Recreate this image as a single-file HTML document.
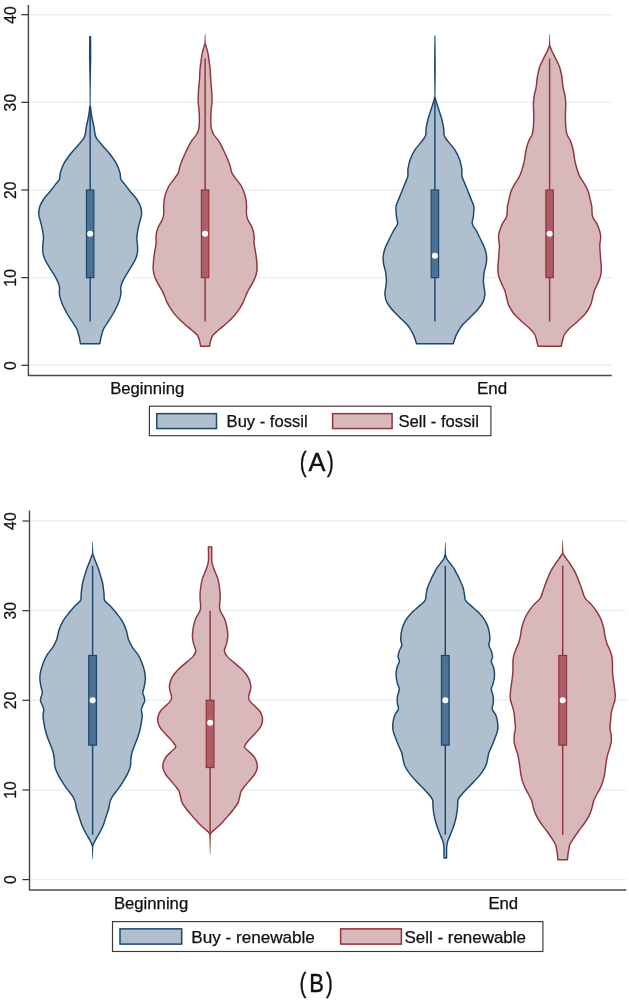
<!DOCTYPE html>
<html><head><meta charset="utf-8"><title>Violin plots</title>
<style>html,body{margin:0;padding:0;background:#fff}body{width:629px;height:1003px;overflow:hidden;font-family:"Liberation Sans",sans-serif}</style>
</head><body>
<svg width="629" height="1003" viewBox="0 0 629 1003" style="display:block;font-family:'Liberation Sans',sans-serif">
<rect width="629" height="1003" fill="#fff"/>
<line x1="29.0" y1="365.30" x2="612.2" y2="365.30" stroke="#e8f0f2" stroke-width="1.4"/>
<line x1="29.0" y1="277.65" x2="612.2" y2="277.65" stroke="#e8f0f2" stroke-width="1.4"/>
<line x1="29.0" y1="190.00" x2="612.2" y2="190.00" stroke="#e8f0f2" stroke-width="1.4"/>
<line x1="29.0" y1="102.35" x2="612.2" y2="102.35" stroke="#e8f0f2" stroke-width="1.4"/>
<line x1="29.0" y1="14.70" x2="612.2" y2="14.70" stroke="#e8f0f2" stroke-width="1.4"/>
<line x1="30.1" y1="879.60" x2="626.2" y2="879.60" stroke="#e8f0f2" stroke-width="1.4"/>
<line x1="30.1" y1="789.95" x2="626.2" y2="789.95" stroke="#e8f0f2" stroke-width="1.4"/>
<line x1="30.1" y1="700.30" x2="626.2" y2="700.30" stroke="#e8f0f2" stroke-width="1.4"/>
<line x1="30.1" y1="610.65" x2="626.2" y2="610.65" stroke="#e8f0f2" stroke-width="1.4"/>
<line x1="30.1" y1="521.00" x2="626.2" y2="521.00" stroke="#e8f0f2" stroke-width="1.4"/>
<polygon points="89.10,36.00 89.00,45.00 88.95,58.00 89.20,70.00 89.40,80.00 89.55,90.00 89.65,107.50 90.65,107.50 90.75,90.00 90.90,80.00 91.10,70.00 91.35,58.00 91.30,45.00 91.20,36.00" fill="#1a476f"/>
<path d="M89.80 106.50 C89.71 107.35 89.54 109.52 89.25 111.60 C88.96 113.68 88.53 116.47 88.05 119.00 C87.57 121.53 86.83 124.22 86.35 126.80 C85.87 129.38 85.67 132.43 85.15 134.50 C84.63 136.57 84.52 137.30 83.25 139.20 C81.98 141.10 79.62 143.52 77.55 145.90 C75.48 148.28 73.08 150.63 70.85 153.50 C68.62 156.37 65.90 159.92 64.15 163.10 C62.40 166.28 61.13 169.90 60.35 172.60 C59.57 175.30 60.23 177.38 59.45 179.30 C58.67 181.22 57.25 182.03 55.65 184.10 C54.05 186.17 51.83 189.22 49.85 191.70 C47.87 194.18 45.45 196.50 43.76 199.00 C42.07 201.50 40.55 204.15 39.71 206.70 C38.88 209.25 38.66 212.08 38.73 214.30 C38.79 216.52 39.57 217.77 40.11 220.00 C40.65 222.23 41.43 224.83 41.98 227.70 C42.54 230.57 43.32 234.33 43.46 237.20 C43.61 240.07 42.97 242.35 42.87 244.90 C42.77 247.45 42.49 249.98 42.87 252.50 C43.25 255.02 43.82 257.13 45.15 260.00 C46.48 262.87 48.95 266.50 50.85 269.70 C52.75 272.90 55.12 276.35 56.55 279.20 C57.98 282.05 58.97 284.25 59.45 286.80 C59.93 289.35 58.98 291.63 59.45 294.50 C59.92 297.37 60.98 300.83 62.25 304.00 C63.52 307.17 65.45 310.63 67.05 313.50 C68.65 316.37 70.25 318.65 71.85 321.20 C73.45 323.75 75.45 326.27 76.65 328.80 C77.85 331.33 78.42 333.92 79.05 336.40 C79.68 338.88 80.22 342.48 80.45 343.70 L99.85 343.70 C100.08 342.48 100.62 338.88 101.25 336.40 C101.88 333.92 102.45 331.33 103.65 328.80 C104.85 326.27 106.85 323.75 108.45 321.20 C110.05 318.65 111.65 316.37 113.25 313.50 C114.85 310.63 116.78 307.17 118.05 304.00 C119.32 300.83 120.38 297.37 120.85 294.50 C121.32 291.63 120.37 289.35 120.85 286.80 C121.33 284.25 122.32 282.05 123.75 279.20 C125.18 276.35 127.55 272.90 129.45 269.70 C131.35 266.50 133.82 262.87 135.15 260.00 C136.48 257.13 137.05 255.02 137.43 252.50 C137.81 249.98 137.53 247.45 137.43 244.90 C137.33 242.35 136.69 240.07 136.84 237.20 C136.98 234.33 137.76 230.57 138.32 227.70 C138.87 224.83 139.65 222.23 140.19 220.00 C140.73 217.77 141.51 216.52 141.57 214.30 C141.64 212.08 141.42 209.25 140.59 206.70 C139.75 204.15 138.23 201.50 136.54 199.00 C134.85 196.50 132.43 194.18 130.45 191.70 C128.47 189.22 126.25 186.17 124.65 184.10 C123.05 182.03 121.63 181.22 120.85 179.30 C120.07 177.38 120.73 175.30 119.95 172.60 C119.17 169.90 117.90 166.28 116.15 163.10 C114.40 159.92 111.68 156.37 109.45 153.50 C107.22 150.63 104.82 148.28 102.75 145.90 C100.68 143.52 98.32 141.10 97.05 139.20 C95.78 137.30 95.67 136.57 95.15 134.50 C94.63 132.43 94.43 129.38 93.95 126.80 C93.47 124.22 92.73 121.53 92.25 119.00 C91.77 116.47 91.34 113.68 91.05 111.60 C90.76 109.52 90.59 107.35 90.50 106.50 Z" fill="#afbfcd" stroke="#1a476f" stroke-width="1.45" stroke-linejoin="round"/>
<line x1="90.15" y1="107.00" x2="90.15" y2="321.48" stroke="#1a476f" stroke-width="1.45"/><rect x="86.45" y="190.00" width="7.40" height="87.65" fill="#4d7095" stroke="#1a476f" stroke-width="1.2"/><circle cx="90.15" cy="233.82" r="3.0" fill="#fff"/>
<polygon points="204.30,45.20 204.88,33.60 205.32,33.60 205.90,45.20" fill="#90353b"/>
<path d="M204.60 44.80 C204.40 45.47 203.80 47.33 203.40 48.80 C203.00 50.27 202.53 52.00 202.20 53.60 C201.87 55.20 201.63 56.82 201.40 58.40 C201.17 59.98 201.03 61.23 200.80 63.10 C200.57 64.97 200.23 66.62 200.00 69.60 C199.77 72.58 199.67 77.18 199.40 81.00 C199.13 84.82 198.60 89.00 198.40 92.50 C198.20 96.00 198.10 99.13 198.20 102.00 C198.30 104.87 198.80 106.83 199.00 109.70 C199.20 112.57 199.43 116.03 199.40 119.20 C199.37 122.37 199.28 126.15 198.80 128.70 C198.32 131.25 197.83 132.27 196.50 134.50 C195.17 136.73 192.70 138.93 190.80 142.10 C188.90 145.27 186.85 149.68 185.10 153.50 C183.35 157.32 181.42 161.82 180.30 165.00 C179.18 168.18 179.35 170.38 178.40 172.60 C177.45 174.82 176.18 176.07 174.60 178.30 C173.02 180.53 170.48 183.13 168.90 186.00 C167.32 188.87 165.97 192.37 165.10 195.50 C164.23 198.63 163.93 201.67 163.70 204.80 C163.47 207.93 163.95 211.77 163.70 214.30 C163.45 216.83 163.15 217.77 162.20 220.00 C161.25 222.23 159.02 225.15 158.00 227.70 C156.98 230.25 156.42 232.75 156.10 235.30 C155.78 237.85 156.30 240.45 156.10 243.00 C155.90 245.55 155.32 247.75 154.90 250.60 C154.48 253.45 153.88 256.92 153.60 260.10 C153.32 263.28 152.98 266.83 153.20 269.70 C153.42 272.57 153.98 274.77 154.90 277.30 C155.82 279.83 157.33 282.35 158.70 284.90 C160.07 287.45 161.73 289.73 163.10 292.60 C164.47 295.47 165.30 298.93 166.90 302.10 C168.50 305.27 170.63 308.73 172.70 311.60 C174.77 314.47 176.77 316.75 179.30 319.30 C181.83 321.85 185.35 324.68 187.90 326.90 C190.45 329.12 193.00 331.17 194.60 332.60 C196.20 334.03 196.70 334.23 197.50 335.50 C198.30 336.77 198.87 338.40 199.40 340.20 C199.93 342.00 200.48 345.28 200.70 346.30 L209.50 346.30 C209.72 345.28 210.27 342.00 210.80 340.20 C211.33 338.40 211.90 336.77 212.70 335.50 C213.50 334.23 214.00 334.03 215.60 332.60 C217.20 331.17 219.75 329.12 222.30 326.90 C224.85 324.68 228.37 321.85 230.90 319.30 C233.43 316.75 235.43 314.47 237.50 311.60 C239.57 308.73 241.70 305.27 243.30 302.10 C244.90 298.93 245.73 295.47 247.10 292.60 C248.47 289.73 250.13 287.45 251.50 284.90 C252.87 282.35 254.38 279.83 255.30 277.30 C256.22 274.77 256.78 272.57 257.00 269.70 C257.22 266.83 256.88 263.28 256.60 260.10 C256.32 256.92 255.72 253.45 255.30 250.60 C254.88 247.75 254.30 245.55 254.10 243.00 C253.90 240.45 254.42 237.85 254.10 235.30 C253.78 232.75 253.22 230.25 252.20 227.70 C251.18 225.15 248.95 222.23 248.00 220.00 C247.05 217.77 246.75 216.83 246.50 214.30 C246.25 211.77 246.73 207.93 246.50 204.80 C246.27 201.67 245.97 198.63 245.10 195.50 C244.23 192.37 242.88 188.87 241.30 186.00 C239.72 183.13 237.18 180.53 235.60 178.30 C234.02 176.07 232.75 174.82 231.80 172.60 C230.85 170.38 231.02 168.18 229.90 165.00 C228.78 161.82 226.85 157.32 225.10 153.50 C223.35 149.68 221.30 145.27 219.40 142.10 C217.50 138.93 215.03 136.73 213.70 134.50 C212.37 132.27 211.88 131.25 211.40 128.70 C210.92 126.15 210.83 122.37 210.80 119.20 C210.77 116.03 211.00 112.57 211.20 109.70 C211.40 106.83 211.90 104.87 212.00 102.00 C212.10 99.13 212.00 96.00 211.80 92.50 C211.60 89.00 211.07 84.82 210.80 81.00 C210.53 77.18 210.43 72.58 210.20 69.60 C209.97 66.62 209.63 64.97 209.40 63.10 C209.17 61.23 209.03 59.98 208.80 58.40 C208.57 56.82 208.33 55.20 208.00 53.60 C207.67 52.00 207.20 50.27 206.80 48.80 C206.40 47.33 205.80 45.47 205.60 44.80 Z" fill="#d8b8ba" stroke="#90353b" stroke-width="1.45" stroke-linejoin="round"/>
<line x1="205.10" y1="58.52" x2="205.10" y2="321.48" stroke="#90353b" stroke-width="1.45"/><rect x="201.40" y="190.00" width="7.40" height="87.65" fill="#ab5e65" stroke="#90353b" stroke-width="1.2"/><circle cx="205.10" cy="233.82" r="3.0" fill="#fff"/>
<polygon points="434.40,35.40 434.15,50.00 434.00,67.00 434.20,85.00 434.35,98.50 435.45,98.50 435.60,85.00 435.80,67.00 435.65,50.00 435.40,35.40" fill="#1a476f"/>
<path d="M434.55 97.50 C434.46 97.93 434.59 98.07 434.00 100.10 C433.41 102.13 432.00 106.52 431.00 109.70 C430.00 112.88 428.82 116.03 428.00 119.20 C427.18 122.37 426.50 126.00 426.10 128.70 C425.70 131.40 426.17 133.48 425.60 135.40 C425.03 137.32 424.45 137.82 422.70 140.20 C420.95 142.58 417.17 146.52 415.10 149.70 C413.03 152.88 411.48 156.12 410.30 159.30 C409.12 162.48 408.42 165.95 408.00 168.80 C407.58 171.65 408.22 174.17 407.80 176.40 C407.38 178.63 406.52 179.65 405.50 182.20 C404.48 184.75 402.97 188.53 401.70 191.70 C400.43 194.87 398.85 198.70 397.90 201.20 C396.95 203.70 396.25 204.20 396.00 206.70 C395.75 209.20 396.15 213.33 396.40 216.20 C396.65 219.07 398.05 221.35 397.50 223.90 C396.95 226.45 394.62 228.65 393.10 231.50 C391.58 234.35 389.77 238.13 388.40 241.00 C387.03 243.87 385.77 246.15 384.90 248.70 C384.03 251.25 383.42 253.77 383.20 256.30 C382.98 258.83 383.22 261.35 383.60 263.90 C383.98 266.45 385.03 268.73 385.50 271.60 C385.97 274.47 386.40 278.25 386.40 281.10 C386.40 283.95 385.75 286.47 385.50 288.70 C385.25 290.93 384.68 292.27 384.90 294.50 C385.12 296.73 385.58 299.57 386.80 302.10 C388.02 304.63 390.03 307.15 392.20 309.70 C394.37 312.25 397.27 314.85 399.80 317.40 C402.33 319.95 405.50 322.78 407.40 325.00 C409.30 327.22 410.08 328.80 411.20 330.70 C412.32 332.60 413.20 334.23 414.10 336.40 C415.00 338.57 416.18 342.48 416.60 343.70 L453.20 343.70 C453.62 342.48 454.80 338.57 455.70 336.40 C456.60 334.23 457.48 332.60 458.60 330.70 C459.72 328.80 460.50 327.22 462.40 325.00 C464.30 322.78 467.47 319.95 470.00 317.40 C472.53 314.85 475.43 312.25 477.60 309.70 C479.77 307.15 481.78 304.63 483.00 302.10 C484.22 299.57 484.68 296.73 484.90 294.50 C485.12 292.27 484.55 290.93 484.30 288.70 C484.05 286.47 483.40 283.95 483.40 281.10 C483.40 278.25 483.83 274.47 484.30 271.60 C484.77 268.73 485.82 266.45 486.20 263.90 C486.58 261.35 486.82 258.83 486.60 256.30 C486.38 253.77 485.77 251.25 484.90 248.70 C484.03 246.15 482.77 243.87 481.40 241.00 C480.03 238.13 478.22 234.35 476.70 231.50 C475.18 228.65 472.85 226.45 472.30 223.90 C471.75 221.35 473.15 219.07 473.40 216.20 C473.65 213.33 474.05 209.20 473.80 206.70 C473.55 204.20 472.85 203.70 471.90 201.20 C470.95 198.70 469.37 194.87 468.10 191.70 C466.83 188.53 465.32 184.75 464.30 182.20 C463.28 179.65 462.42 178.63 462.00 176.40 C461.58 174.17 462.22 171.65 461.80 168.80 C461.38 165.95 460.68 162.48 459.50 159.30 C458.32 156.12 456.77 152.88 454.70 149.70 C452.63 146.52 448.85 142.58 447.10 140.20 C445.35 137.82 444.77 137.32 444.20 135.40 C443.63 133.48 444.10 131.40 443.70 128.70 C443.30 126.00 442.62 122.37 441.80 119.20 C440.98 116.03 439.80 112.88 438.80 109.70 C437.80 106.52 436.39 102.13 435.80 100.10 C435.21 98.07 435.34 97.93 435.25 97.50 Z" fill="#afbfcd" stroke="#1a476f" stroke-width="1.45" stroke-linejoin="round"/>
<line x1="434.90" y1="98.00" x2="434.90" y2="321.48" stroke="#1a476f" stroke-width="1.45"/><rect x="431.20" y="190.00" width="7.40" height="87.65" fill="#4d7095" stroke="#1a476f" stroke-width="1.2"/><circle cx="434.90" cy="255.74" r="3.0" fill="#fff"/>
<polygon points="548.80,46.90 549.38,34.00 549.82,34.00 550.40,46.90" fill="#90353b"/>
<path d="M549.10 46.50 C548.88 47.08 548.32 48.82 547.80 50.00 C547.28 51.18 546.70 52.20 546.00 53.60 C545.30 55.00 544.38 56.82 543.60 58.40 C542.82 59.98 542.00 61.55 541.30 63.10 C540.60 64.65 540.07 65.35 539.40 67.70 C538.73 70.05 537.83 74.02 537.30 77.20 C536.77 80.38 536.73 83.62 536.20 86.80 C535.67 89.98 534.57 93.45 534.10 96.30 C533.63 99.15 533.45 100.72 533.40 103.90 C533.35 107.08 533.80 111.58 533.80 115.40 C533.80 119.22 533.67 123.62 533.40 126.80 C533.13 129.98 532.93 132.27 532.20 134.50 C531.47 136.73 530.02 137.67 529.00 140.20 C527.98 142.73 526.83 146.52 526.10 149.70 C525.37 152.88 525.23 156.12 524.60 159.30 C523.97 162.48 523.15 165.95 522.30 168.80 C521.45 171.65 520.77 173.85 519.50 176.40 C518.23 178.95 516.13 181.55 514.70 184.10 C513.27 186.65 511.92 188.85 510.90 191.70 C509.88 194.55 509.18 198.70 508.60 201.20 C508.02 203.70 507.72 204.20 507.40 206.70 C507.08 209.20 507.55 213.33 506.70 216.20 C505.85 219.07 503.52 221.35 502.30 223.90 C501.08 226.45 500.03 229.28 499.40 231.50 C498.77 233.72 498.50 234.97 498.50 237.20 C498.50 239.43 499.32 242.35 499.40 244.90 C499.48 247.45 499.15 249.97 499.00 252.50 C498.85 255.03 498.68 257.55 498.50 260.10 C498.32 262.65 497.90 265.25 497.90 267.80 C497.90 270.35 497.93 272.87 498.50 275.40 C499.07 277.93 500.25 280.47 501.30 283.00 C502.35 285.53 503.90 288.05 504.80 290.60 C505.70 293.15 506.00 295.75 506.70 298.30 C507.40 300.85 507.83 303.37 509.00 305.90 C510.17 308.43 511.63 310.95 513.70 313.50 C515.77 316.05 518.68 318.65 521.40 321.20 C524.12 323.75 527.78 326.58 530.00 328.80 C532.22 331.02 533.60 332.60 534.70 334.50 C535.80 336.40 536.05 338.23 536.60 340.20 C537.15 342.17 537.77 345.28 538.00 346.30 L561.20 346.30 C561.43 345.28 562.05 342.17 562.60 340.20 C563.15 338.23 563.40 336.40 564.50 334.50 C565.60 332.60 566.98 331.02 569.20 328.80 C571.42 326.58 575.08 323.75 577.80 321.20 C580.52 318.65 583.43 316.05 585.50 313.50 C587.57 310.95 589.03 308.43 590.20 305.90 C591.37 303.37 591.80 300.85 592.50 298.30 C593.20 295.75 593.50 293.15 594.40 290.60 C595.30 288.05 596.85 285.53 597.90 283.00 C598.95 280.47 600.13 277.93 600.70 275.40 C601.27 272.87 601.30 270.35 601.30 267.80 C601.30 265.25 600.88 262.65 600.70 260.10 C600.52 257.55 600.35 255.03 600.20 252.50 C600.05 249.97 599.72 247.45 599.80 244.90 C599.88 242.35 600.70 239.43 600.70 237.20 C600.70 234.97 600.43 233.72 599.80 231.50 C599.17 229.28 598.12 226.45 596.90 223.90 C595.68 221.35 593.35 219.07 592.50 216.20 C591.65 213.33 592.12 209.20 591.80 206.70 C591.48 204.20 591.18 203.70 590.60 201.20 C590.02 198.70 589.32 194.55 588.30 191.70 C587.28 188.85 585.93 186.65 584.50 184.10 C583.07 181.55 580.97 178.95 579.70 176.40 C578.43 173.85 577.75 171.65 576.90 168.80 C576.05 165.95 575.23 162.48 574.60 159.30 C573.97 156.12 573.83 152.88 573.10 149.70 C572.37 146.52 571.22 142.73 570.20 140.20 C569.18 137.67 567.73 136.73 567.00 134.50 C566.27 132.27 566.07 129.98 565.80 126.80 C565.53 123.62 565.40 119.22 565.40 115.40 C565.40 111.58 565.85 107.08 565.80 103.90 C565.75 100.72 565.57 99.15 565.10 96.30 C564.63 93.45 563.53 89.98 563.00 86.80 C562.47 83.62 562.43 80.38 561.90 77.20 C561.37 74.02 560.47 70.05 559.80 67.70 C559.13 65.35 558.60 64.65 557.90 63.10 C557.20 61.55 556.38 59.98 555.60 58.40 C554.82 56.82 553.90 55.00 553.20 53.60 C552.50 52.20 551.92 51.18 551.40 50.00 C550.88 48.82 550.32 47.08 550.10 46.50 Z" fill="#d8b8ba" stroke="#90353b" stroke-width="1.45" stroke-linejoin="round"/>
<line x1="549.60" y1="58.52" x2="549.60" y2="321.48" stroke="#90353b" stroke-width="1.45"/><rect x="545.90" y="190.00" width="7.40" height="87.65" fill="#ab5e65" stroke="#90353b" stroke-width="1.2"/><circle cx="549.60" cy="233.82" r="3.0" fill="#fff"/>
<polygon points="91.80,555.40 92.38,541.50 92.82,541.50 93.40,555.40" fill="#1a476f"/>
<polygon points="91.80,844.80 92.38,859.00 92.82,859.00 93.40,844.80" fill="#1a476f"/>
<path d="M92.10 555.00 C91.85 555.67 91.15 557.57 90.60 559.00 C90.05 560.43 89.42 562.03 88.80 563.60 C88.18 565.17 87.47 566.82 86.90 568.40 C86.33 569.98 85.88 571.50 85.40 573.10 C84.92 574.70 84.50 576.17 84.00 578.00 C83.50 579.83 82.87 581.48 82.40 584.10 C81.93 586.72 81.50 590.98 81.20 593.70 C80.90 596.42 81.50 598.50 80.60 600.40 C79.70 602.30 77.72 603.03 75.80 605.10 C73.88 607.17 71.17 610.25 69.10 612.80 C67.03 615.35 65.08 617.55 63.40 620.40 C61.72 623.25 60.12 626.72 59.00 629.90 C57.88 633.08 57.72 636.63 56.70 639.50 C55.68 642.37 54.48 644.57 52.90 647.10 C51.32 649.63 48.78 652.15 47.20 654.70 C45.62 657.25 44.52 659.53 43.40 662.40 C42.28 665.27 41.08 669.05 40.50 671.90 C39.92 674.75 39.80 676.95 39.90 679.50 C40.00 682.05 40.68 684.97 41.10 687.20 C41.52 689.43 42.40 691.32 42.40 692.90 C42.40 694.48 41.42 695.35 41.10 696.70 C40.78 698.05 40.28 699.57 40.50 701.00 C40.72 702.43 41.85 703.80 42.40 705.30 C42.95 706.80 43.70 708.42 43.80 710.00 C43.90 711.58 43.00 712.73 43.00 714.80 C43.00 716.87 43.42 719.87 43.80 722.40 C44.18 724.93 44.67 727.45 45.30 730.00 C45.93 732.55 46.72 735.15 47.60 737.70 C48.48 740.25 49.65 742.75 50.60 745.30 C51.55 747.85 52.67 750.62 53.30 753.00 C53.93 755.38 54.15 757.38 54.40 759.60 C54.65 761.82 54.25 763.92 54.80 766.30 C55.35 768.68 56.48 771.35 57.70 773.90 C58.92 776.45 60.52 779.05 62.10 781.60 C63.68 784.15 65.38 786.67 67.20 789.20 C69.02 791.73 71.63 794.57 73.00 796.80 C74.37 799.03 74.83 800.68 75.40 802.60 C75.97 804.52 75.82 806.08 76.40 808.30 C76.98 810.52 78.08 813.37 78.90 815.90 C79.72 818.43 80.45 821.18 81.30 823.50 C82.15 825.82 83.12 827.97 84.00 829.80 C84.88 831.63 85.70 832.92 86.60 834.50 C87.50 836.08 88.53 837.72 89.40 839.30 C90.27 840.88 91.33 843.02 91.80 844.00 C92.27 844.98 92.13 845.00 92.20 845.20 L93.00 845.20 C93.07 845.00 92.93 844.98 93.40 844.00 C93.87 843.02 94.93 840.88 95.80 839.30 C96.67 837.72 97.70 836.08 98.60 834.50 C99.50 832.92 100.32 831.63 101.20 829.80 C102.08 827.97 103.05 825.82 103.90 823.50 C104.75 821.18 105.48 818.43 106.30 815.90 C107.12 813.37 108.22 810.52 108.80 808.30 C109.38 806.08 109.23 804.52 109.80 802.60 C110.37 800.68 110.83 799.03 112.20 796.80 C113.57 794.57 116.18 791.73 118.00 789.20 C119.82 786.67 121.52 784.15 123.10 781.60 C124.68 779.05 126.28 776.45 127.50 773.90 C128.72 771.35 129.85 768.68 130.40 766.30 C130.95 763.92 130.55 761.82 130.80 759.60 C131.05 757.38 131.27 755.38 131.90 753.00 C132.53 750.62 133.65 747.85 134.60 745.30 C135.55 742.75 136.72 740.25 137.60 737.70 C138.48 735.15 139.27 732.55 139.90 730.00 C140.53 727.45 141.02 724.93 141.40 722.40 C141.78 719.87 142.20 716.87 142.20 714.80 C142.20 712.73 141.30 711.58 141.40 710.00 C141.50 708.42 142.25 706.80 142.80 705.30 C143.35 703.80 144.48 702.43 144.70 701.00 C144.92 699.57 144.42 698.05 144.10 696.70 C143.78 695.35 142.80 694.48 142.80 692.90 C142.80 691.32 143.68 689.43 144.10 687.20 C144.52 684.97 145.20 682.05 145.30 679.50 C145.40 676.95 145.28 674.75 144.70 671.90 C144.12 669.05 142.92 665.27 141.80 662.40 C140.68 659.53 139.58 657.25 138.00 654.70 C136.42 652.15 133.88 649.63 132.30 647.10 C130.72 644.57 129.52 642.37 128.50 639.50 C127.48 636.63 127.32 633.08 126.20 629.90 C125.08 626.72 123.48 623.25 121.80 620.40 C120.12 617.55 118.17 615.35 116.10 612.80 C114.03 610.25 111.32 607.17 109.40 605.10 C107.48 603.03 105.50 602.30 104.60 600.40 C103.70 598.50 104.30 596.42 104.00 593.70 C103.70 590.98 103.27 586.72 102.80 584.10 C102.33 581.48 101.70 579.83 101.20 578.00 C100.70 576.17 100.28 574.70 99.80 573.10 C99.32 571.50 98.87 569.98 98.30 568.40 C97.73 566.82 97.02 565.17 96.40 563.60 C95.78 562.03 95.15 560.43 94.60 559.00 C94.05 557.57 93.35 555.67 93.10 555.00 Z" fill="#afbfcd" stroke="#1a476f" stroke-width="1.45" stroke-linejoin="round"/>
<line x1="92.60" y1="565.83" x2="92.60" y2="834.77" stroke="#1a476f" stroke-width="1.45"/><rect x="88.75" y="655.48" width="7.70" height="89.65" fill="#4d7095" stroke="#1a476f" stroke-width="1.2"/><circle cx="92.60" cy="700.30" r="3.0" fill="#fff"/>
<polygon points="209.30,833.40 209.88,854.00 210.32,854.00 210.90,833.40" fill="#90353b"/>
<path d="M208.40 546.90 C208.40 549.28 208.75 557.53 208.40 561.20 C208.05 564.87 207.28 566.03 206.30 568.90 C205.32 571.77 203.45 575.22 202.50 578.40 C201.55 581.58 201.02 584.82 200.60 588.00 C200.18 591.18 200.00 594.65 200.00 597.50 C200.00 600.35 200.60 602.88 200.60 605.10 C200.60 607.32 200.80 608.57 200.00 610.80 C199.20 613.03 196.88 615.95 195.80 618.50 C194.72 621.05 194.07 623.25 193.50 626.10 C192.93 628.95 192.40 632.73 192.40 635.60 C192.40 638.47 192.93 640.75 193.50 643.30 C194.07 645.85 195.90 648.68 195.80 650.90 C195.70 653.12 194.48 654.68 192.90 656.60 C191.32 658.52 188.83 660.17 186.30 662.40 C183.77 664.63 180.10 667.47 177.70 670.00 C175.30 672.53 173.27 675.07 171.90 677.60 C170.53 680.13 169.82 682.97 169.50 685.20 C169.18 687.43 169.67 689.20 170.00 691.00 C170.33 692.80 171.37 694.42 171.50 696.00 C171.63 697.58 171.68 698.95 170.80 700.50 C169.92 702.05 167.92 703.55 166.20 705.30 C164.48 707.05 161.87 709.10 160.50 711.00 C159.13 712.90 158.42 714.80 158.00 716.70 C157.58 718.60 157.58 720.48 158.00 722.40 C158.42 724.32 158.97 725.97 160.50 728.20 C162.03 730.43 165.20 733.58 167.20 735.80 C169.20 738.02 171.07 739.67 172.50 741.50 C173.93 743.33 175.90 745.22 175.80 746.80 C175.70 748.38 173.50 749.33 171.90 751.00 C170.30 752.67 167.62 754.88 166.20 756.80 C164.78 758.72 163.93 760.60 163.40 762.50 C162.87 764.40 162.68 766.30 163.00 768.20 C163.32 770.10 164.13 771.98 165.30 773.90 C166.47 775.82 168.42 777.78 170.00 779.70 C171.58 781.62 173.30 783.50 174.80 785.40 C176.30 787.30 178.05 789.20 179.00 791.10 C179.95 793.00 179.98 794.88 180.50 796.80 C181.02 798.72 181.20 800.68 182.10 802.60 C183.00 804.52 184.23 806.08 185.90 808.30 C187.57 810.52 190.45 813.95 192.10 815.90 C193.75 817.85 194.45 818.52 195.80 820.00 C197.15 821.48 198.58 823.22 200.20 824.80 C201.82 826.38 204.15 828.30 205.50 829.50 C206.85 830.70 207.60 831.28 208.30 832.00 C209.00 832.72 209.47 833.50 209.70 833.80 L210.50 833.80 C210.73 833.50 211.20 832.72 211.90 832.00 C212.60 831.28 213.35 830.70 214.70 829.50 C216.05 828.30 218.38 826.38 220.00 824.80 C221.62 823.22 223.05 821.48 224.40 820.00 C225.75 818.52 226.45 817.85 228.10 815.90 C229.75 813.95 232.63 810.52 234.30 808.30 C235.97 806.08 237.20 804.52 238.10 802.60 C239.00 800.68 239.18 798.72 239.70 796.80 C240.22 794.88 240.25 793.00 241.20 791.10 C242.15 789.20 243.90 787.30 245.40 785.40 C246.90 783.50 248.62 781.62 250.20 779.70 C251.78 777.78 253.73 775.82 254.90 773.90 C256.07 771.98 256.88 770.10 257.20 768.20 C257.52 766.30 257.33 764.40 256.80 762.50 C256.27 760.60 255.42 758.72 254.00 756.80 C252.58 754.88 249.90 752.67 248.30 751.00 C246.70 749.33 244.50 748.38 244.40 746.80 C244.30 745.22 246.27 743.33 247.70 741.50 C249.13 739.67 251.00 738.02 253.00 735.80 C255.00 733.58 258.17 730.43 259.70 728.20 C261.23 725.97 261.78 724.32 262.20 722.40 C262.62 720.48 262.62 718.60 262.20 716.70 C261.78 714.80 261.07 712.90 259.70 711.00 C258.33 709.10 255.72 707.05 254.00 705.30 C252.28 703.55 250.28 702.05 249.40 700.50 C248.52 698.95 248.57 697.58 248.70 696.00 C248.83 694.42 249.87 692.80 250.20 691.00 C250.53 689.20 251.02 687.43 250.70 685.20 C250.38 682.97 249.67 680.13 248.30 677.60 C246.93 675.07 244.90 672.53 242.50 670.00 C240.10 667.47 236.43 664.63 233.90 662.40 C231.37 660.17 228.88 658.52 227.30 656.60 C225.72 654.68 224.50 653.12 224.40 650.90 C224.30 648.68 226.13 645.85 226.70 643.30 C227.27 640.75 227.80 638.47 227.80 635.60 C227.80 632.73 227.27 628.95 226.70 626.10 C226.13 623.25 225.48 621.05 224.40 618.50 C223.32 615.95 221.00 613.03 220.20 610.80 C219.40 608.57 219.60 607.32 219.60 605.10 C219.60 602.88 220.20 600.35 220.20 597.50 C220.20 594.65 220.02 591.18 219.60 588.00 C219.18 584.82 218.65 581.58 217.70 578.40 C216.75 575.22 214.88 571.77 213.90 568.90 C212.92 566.03 212.15 564.87 211.80 561.20 C211.45 557.53 211.80 549.28 211.80 546.90 Z" fill="#d8b8ba" stroke="#90353b" stroke-width="1.45" stroke-linejoin="round"/>
<line x1="210.10" y1="610.65" x2="210.10" y2="834.77" stroke="#90353b" stroke-width="1.45"/><rect x="206.25" y="700.30" width="7.70" height="67.24" fill="#ab5e65" stroke="#90353b" stroke-width="1.2"/><circle cx="210.10" cy="722.71" r="3.0" fill="#fff"/>
<polygon points="444.50,555.90 445.08,542.30 445.52,542.30 446.10,555.90" fill="#1a476f"/>
<path d="M444.90 555.50 C444.72 556.05 444.58 557.45 443.80 558.80 C443.02 560.15 441.40 562.00 440.20 563.60 C439.00 565.20 437.60 566.82 436.60 568.40 C435.60 569.98 435.07 571.43 434.20 573.10 C433.33 574.77 432.53 575.92 431.40 578.40 C430.27 580.88 428.30 585.13 427.40 588.00 C426.50 590.87 426.38 593.53 426.00 595.60 C425.62 597.67 426.05 598.82 425.10 600.40 C424.15 601.98 422.53 603.03 420.30 605.10 C418.07 607.17 414.15 610.25 411.70 612.80 C409.25 615.35 407.25 617.55 405.60 620.40 C403.95 623.25 402.62 626.72 401.80 629.90 C400.98 633.08 400.70 636.95 400.70 639.50 C400.70 642.05 402.03 643.30 401.80 645.20 C401.57 647.10 399.93 649.00 399.30 650.90 C398.67 652.80 398.00 654.85 398.00 656.60 C398.00 658.35 399.50 659.48 399.30 661.40 C399.10 663.32 397.33 665.72 396.80 668.10 C396.27 670.48 396.00 673.17 396.10 675.70 C396.20 678.23 396.87 681.07 397.40 683.30 C397.93 685.53 399.30 686.87 399.30 689.10 C399.30 691.33 397.72 694.32 397.40 696.70 C397.08 699.08 397.23 701.33 397.40 703.40 C397.57 705.47 398.82 707.20 398.40 709.10 C397.98 711.00 395.80 712.58 394.90 714.80 C394.00 717.02 393.32 719.85 393.00 722.40 C392.68 724.95 392.58 727.55 393.00 730.10 C393.42 732.65 394.60 735.17 395.50 737.70 C396.40 740.23 397.35 742.75 398.40 745.30 C399.45 747.85 401.02 750.62 401.80 753.00 C402.58 755.38 402.57 757.38 403.10 759.60 C403.63 761.82 403.88 763.92 405.00 766.30 C406.12 768.68 407.88 771.35 409.80 773.90 C411.72 776.45 414.12 779.05 416.50 781.60 C418.88 784.15 421.72 786.67 424.10 789.20 C426.48 791.73 429.37 794.90 430.80 796.80 C432.23 798.70 432.32 798.68 432.70 800.60 C433.08 802.52 432.85 805.75 433.10 808.30 C433.35 810.85 433.70 813.37 434.20 815.90 C434.70 818.43 435.33 820.95 436.10 823.50 C436.87 826.05 437.83 828.65 438.80 831.20 C439.77 833.75 441.18 837.00 441.90 838.80 C442.62 840.60 442.77 840.73 443.10 842.00 C443.43 843.27 443.75 844.73 443.90 846.40 C444.05 848.07 443.98 850.08 444.00 852.00 C444.02 853.92 444.00 856.92 444.00 857.90 L446.60 857.90 C446.60 856.92 446.58 853.92 446.60 852.00 C446.62 850.08 446.55 848.07 446.70 846.40 C446.85 844.73 447.17 843.27 447.50 842.00 C447.83 840.73 447.98 840.60 448.70 838.80 C449.42 837.00 450.83 833.75 451.80 831.20 C452.77 828.65 453.73 826.05 454.50 823.50 C455.27 820.95 455.90 818.43 456.40 815.90 C456.90 813.37 457.25 810.85 457.50 808.30 C457.75 805.75 457.52 802.52 457.90 800.60 C458.28 798.68 458.37 798.70 459.80 796.80 C461.23 794.90 464.12 791.73 466.50 789.20 C468.88 786.67 471.72 784.15 474.10 781.60 C476.48 779.05 478.88 776.45 480.80 773.90 C482.72 771.35 484.48 768.68 485.60 766.30 C486.72 763.92 486.97 761.82 487.50 759.60 C488.03 757.38 488.02 755.38 488.80 753.00 C489.58 750.62 491.15 747.85 492.20 745.30 C493.25 742.75 494.20 740.23 495.10 737.70 C496.00 735.17 497.18 732.65 497.60 730.10 C498.02 727.55 497.92 724.95 497.60 722.40 C497.28 719.85 496.60 717.02 495.70 714.80 C494.80 712.58 492.62 711.00 492.20 709.10 C491.78 707.20 493.03 705.47 493.20 703.40 C493.37 701.33 493.52 699.08 493.20 696.70 C492.88 694.32 491.30 691.33 491.30 689.10 C491.30 686.87 492.67 685.53 493.20 683.30 C493.73 681.07 494.40 678.23 494.50 675.70 C494.60 673.17 494.33 670.48 493.80 668.10 C493.27 665.72 491.50 663.32 491.30 661.40 C491.10 659.48 492.60 658.35 492.60 656.60 C492.60 654.85 491.93 652.80 491.30 650.90 C490.67 649.00 489.03 647.10 488.80 645.20 C488.57 643.30 489.90 642.05 489.90 639.50 C489.90 636.95 489.62 633.08 488.80 629.90 C487.98 626.72 486.65 623.25 485.00 620.40 C483.35 617.55 481.35 615.35 478.90 612.80 C476.45 610.25 472.53 607.17 470.30 605.10 C468.07 603.03 466.45 601.98 465.50 600.40 C464.55 598.82 464.98 597.67 464.60 595.60 C464.22 593.53 464.10 590.87 463.20 588.00 C462.30 585.13 460.33 580.88 459.20 578.40 C458.07 575.92 457.27 574.77 456.40 573.10 C455.53 571.43 455.00 569.98 454.00 568.40 C453.00 566.82 451.60 565.20 450.40 563.60 C449.20 562.00 447.58 560.15 446.80 558.80 C446.02 557.45 445.88 556.05 445.70 555.50 Z" fill="#afbfcd" stroke="#1a476f" stroke-width="1.45" stroke-linejoin="round"/>
<line x1="445.30" y1="565.83" x2="445.30" y2="834.77" stroke="#1a476f" stroke-width="1.45"/><rect x="441.45" y="655.48" width="7.70" height="89.65" fill="#4d7095" stroke="#1a476f" stroke-width="1.2"/><circle cx="445.30" cy="700.30" r="3.0" fill="#fff"/>
<polygon points="561.90,554.20 562.48,540.00 562.92,540.00 563.50,554.20" fill="#90353b"/>
<path d="M562.30 553.80 C561.73 554.63 560.03 557.17 558.90 558.80 C557.77 560.43 556.58 562.00 555.50 563.60 C554.42 565.20 553.35 566.82 552.40 568.40 C551.45 569.98 550.57 571.50 549.80 573.10 C549.03 574.70 548.53 576.17 547.80 578.00 C547.07 579.83 546.25 581.80 545.40 584.10 C544.55 586.40 543.57 589.42 542.70 591.80 C541.83 594.18 541.73 596.18 540.20 598.40 C538.67 600.62 535.57 602.70 533.50 605.10 C531.43 607.50 529.38 610.25 527.80 612.80 C526.22 615.35 525.02 617.87 524.00 620.40 C522.98 622.93 522.28 625.47 521.70 628.00 C521.12 630.53 521.02 633.05 520.50 635.60 C519.98 638.15 519.35 641.07 518.60 643.30 C517.85 645.53 516.85 646.78 516.00 649.00 C515.15 651.22 514.02 654.05 513.50 656.60 C512.98 659.15 513.00 661.75 512.90 664.30 C512.80 666.85 513.03 669.37 512.90 671.90 C512.77 674.43 512.42 676.95 512.10 679.50 C511.78 682.05 511.32 684.65 511.00 687.20 C510.68 689.75 510.27 692.58 510.20 694.80 C510.13 697.02 510.28 698.75 510.60 700.50 C510.92 702.25 511.52 703.23 512.10 705.30 C512.68 707.37 513.65 710.37 514.10 712.90 C514.55 715.43 514.58 717.95 514.80 720.50 C515.02 723.05 515.47 725.97 515.40 728.20 C515.33 730.43 514.62 731.68 514.40 733.90 C514.18 736.12 513.83 738.97 514.10 741.50 C514.37 744.03 515.30 746.55 516.00 749.10 C516.70 751.65 517.67 753.93 518.30 756.80 C518.93 759.67 519.33 763.13 519.80 766.30 C520.27 769.47 520.40 772.62 521.10 775.80 C521.80 778.98 522.88 782.53 524.00 785.40 C525.12 788.27 526.53 790.47 527.80 793.00 C529.07 795.53 530.65 798.05 531.60 800.60 C532.55 803.15 532.70 805.75 533.50 808.30 C534.30 810.85 535.13 813.37 536.40 815.90 C537.67 818.43 539.35 820.95 541.10 823.50 C542.85 826.05 545.05 828.65 546.90 831.20 C548.75 833.75 550.77 836.58 552.20 838.80 C553.63 841.02 554.80 842.92 555.50 844.50 C556.20 846.08 556.08 846.70 556.40 848.30 C556.72 849.90 557.15 852.18 557.40 854.10 C557.65 856.02 557.82 858.85 557.90 859.80 L567.50 859.80 C567.58 858.85 567.75 856.02 568.00 854.10 C568.25 852.18 568.68 849.90 569.00 848.30 C569.32 846.70 569.20 846.08 569.90 844.50 C570.60 842.92 571.77 841.02 573.20 838.80 C574.63 836.58 576.65 833.75 578.50 831.20 C580.35 828.65 582.55 826.05 584.30 823.50 C586.05 820.95 587.73 818.43 589.00 815.90 C590.27 813.37 591.10 810.85 591.90 808.30 C592.70 805.75 592.85 803.15 593.80 800.60 C594.75 798.05 596.33 795.53 597.60 793.00 C598.87 790.47 600.28 788.27 601.40 785.40 C602.52 782.53 603.60 778.98 604.30 775.80 C605.00 772.62 605.13 769.47 605.60 766.30 C606.07 763.13 606.47 759.67 607.10 756.80 C607.73 753.93 608.70 751.65 609.40 749.10 C610.10 746.55 611.03 744.03 611.30 741.50 C611.57 738.97 611.22 736.12 611.00 733.90 C610.78 731.68 610.07 730.43 610.00 728.20 C609.93 725.97 610.38 723.05 610.60 720.50 C610.82 717.95 610.85 715.43 611.30 712.90 C611.75 710.37 612.72 707.37 613.30 705.30 C613.88 703.23 614.48 702.25 614.80 700.50 C615.12 698.75 615.27 697.02 615.20 694.80 C615.13 692.58 614.72 689.75 614.40 687.20 C614.08 684.65 613.62 682.05 613.30 679.50 C612.98 676.95 612.63 674.43 612.50 671.90 C612.37 669.37 612.60 666.85 612.50 664.30 C612.40 661.75 612.42 659.15 611.90 656.60 C611.38 654.05 610.25 651.22 609.40 649.00 C608.55 646.78 607.55 645.53 606.80 643.30 C606.05 641.07 605.42 638.15 604.90 635.60 C604.38 633.05 604.28 630.53 603.70 628.00 C603.12 625.47 602.42 622.93 601.40 620.40 C600.38 617.87 599.18 615.35 597.60 612.80 C596.02 610.25 593.97 607.50 591.90 605.10 C589.83 602.70 586.73 600.62 585.20 598.40 C583.67 596.18 583.57 594.18 582.70 591.80 C581.83 589.42 580.85 586.40 580.00 584.10 C579.15 581.80 578.33 579.83 577.60 578.00 C576.87 576.17 576.37 574.70 575.60 573.10 C574.83 571.50 573.95 569.98 573.00 568.40 C572.05 566.82 570.98 565.20 569.90 563.60 C568.82 562.00 567.63 560.43 566.50 558.80 C565.37 557.17 563.67 554.63 563.10 553.80 Z" fill="#d8b8ba" stroke="#90353b" stroke-width="1.45" stroke-linejoin="round"/>
<line x1="562.70" y1="565.83" x2="562.70" y2="834.77" stroke="#90353b" stroke-width="1.45"/><rect x="558.85" y="655.48" width="7.70" height="89.65" fill="#ab5e65" stroke="#90353b" stroke-width="1.2"/><circle cx="562.70" cy="700.30" r="3.0" fill="#fff"/>
<path d="M28.4 4.9 V375.5 H611.8" fill="none" stroke="#4a4a4a" stroke-width="1.45"/>
<line x1="21.3" y1="365.30" x2="28.4" y2="365.30" stroke="#333" stroke-width="1.2"/>
<line x1="21.3" y1="277.65" x2="28.4" y2="277.65" stroke="#333" stroke-width="1.2"/>
<line x1="21.3" y1="190.00" x2="28.4" y2="190.00" stroke="#333" stroke-width="1.2"/>
<line x1="21.3" y1="102.35" x2="28.4" y2="102.35" stroke="#333" stroke-width="1.2"/>
<line x1="21.3" y1="14.70" x2="28.4" y2="14.70" stroke="#333" stroke-width="1.2"/>
<path d="M29.5 510.4 V889.9 H626.3" fill="none" stroke="#4a4a4a" stroke-width="1.45"/>
<line x1="22.4" y1="879.60" x2="29.5" y2="879.60" stroke="#333" stroke-width="1.2"/>
<line x1="22.4" y1="789.95" x2="29.5" y2="789.95" stroke="#333" stroke-width="1.2"/>
<line x1="22.4" y1="700.30" x2="29.5" y2="700.30" stroke="#333" stroke-width="1.2"/>
<line x1="22.4" y1="610.65" x2="29.5" y2="610.65" stroke="#333" stroke-width="1.2"/>
<line x1="22.4" y1="521.00" x2="29.5" y2="521.00" stroke="#333" stroke-width="1.2"/>
<rect x="149.4" y="406.2" width="341.5" height="29.5" fill="#fff" stroke="#383838" stroke-width="1.15"/>
<rect x="156.8" y="413.65" width="59.7" height="14.9" fill="#afbfcd" stroke="#1a476f" stroke-width="1.5"/>
<rect x="332.6" y="413.65" width="59.5" height="14.9" fill="#d8b8ba" stroke="#90353b" stroke-width="1.5"/>
<rect x="112.5" y="921.6" width="430.4" height="29.9" fill="#fff" stroke="#383838" stroke-width="1.15"/>
<rect x="120.0" y="928.85" width="61.7" height="15.25" fill="#afbfcd" stroke="#1a476f" stroke-width="1.5"/>
<rect x="340.6" y="928.85" width="60.8" height="15.25" fill="#d8b8ba" stroke="#90353b" stroke-width="1.5"/>
<g opacity="0.999" stroke="#111" stroke-width="0.25" letter-spacing="0.15">
<text transform="translate(16.0 365.50) rotate(-90)" text-anchor="middle" font-size="15.6" letter-spacing="0.25" fill="#111">0</text>
<text transform="translate(16.0 277.85) rotate(-90)" text-anchor="middle" font-size="15.6" letter-spacing="0.25" fill="#111">10</text>
<text transform="translate(16.0 190.20) rotate(-90)" text-anchor="middle" font-size="15.6" letter-spacing="0.25" fill="#111">20</text>
<text transform="translate(16.0 102.55) rotate(-90)" text-anchor="middle" font-size="15.6" letter-spacing="0.25" fill="#111">30</text>
<text transform="translate(16.0 14.90) rotate(-90)" text-anchor="middle" font-size="15.6" letter-spacing="0.25" fill="#111">40</text>
<text transform="translate(16.1 879.60) rotate(-90)" text-anchor="middle" font-size="15.6" letter-spacing="0.25" fill="#111">0</text>
<text transform="translate(16.1 789.95) rotate(-90)" text-anchor="middle" font-size="15.6" letter-spacing="0.25" fill="#111">10</text>
<text transform="translate(16.1 700.30) rotate(-90)" text-anchor="middle" font-size="15.6" letter-spacing="0.25" fill="#111">20</text>
<text transform="translate(16.1 610.65) rotate(-90)" text-anchor="middle" font-size="15.6" letter-spacing="0.25" fill="#111">30</text>
<text transform="translate(16.1 521.00) rotate(-90)" text-anchor="middle" font-size="15.6" letter-spacing="0.25" fill="#111">40</text>
<text x="110.20" y="394.30" font-size="15.70" textLength="74.20" lengthAdjust="spacingAndGlyphs" letter-spacing="0" fill="#111">Beginning</text>
<text x="477.00" y="394.30" font-size="15.70" textLength="30.20" lengthAdjust="spacingAndGlyphs" letter-spacing="0" fill="#111">End</text>
<text x="113.90" y="909.20" font-size="15.70" textLength="74.30" lengthAdjust="spacingAndGlyphs" letter-spacing="0" fill="#111">Beginning</text>
<text x="488.40" y="909.20" font-size="15.70" textLength="29.80" lengthAdjust="spacingAndGlyphs" letter-spacing="0" fill="#111">End</text>
<text x="226.60" y="427.00" font-size="15.70" textLength="81.00" lengthAdjust="spacingAndGlyphs" letter-spacing="0" fill="#111">Buy - fossil</text>
<text x="398.40" y="427.20" font-size="15.70" textLength="80.50" lengthAdjust="spacingAndGlyphs" letter-spacing="0" fill="#111">Sell - fossil</text>
<text x="191.30" y="943.00" font-size="15.70" textLength="123.50" lengthAdjust="spacingAndGlyphs" letter-spacing="0" fill="#111">Buy - renewable</text>
<text x="404.40" y="943.40" font-size="15.70" textLength="121.60" lengthAdjust="spacingAndGlyphs" letter-spacing="0" fill="#111">Sell - renewable</text>
<text transform="translate(303.10 471.00) scale(0.740 1)" font-size="27.70" text-anchor="middle" letter-spacing="0" stroke-width="0.4" fill="#111">(</text>
<text transform="translate(316.90 470.90) scale(1.000 1)" font-size="25.40" text-anchor="middle" letter-spacing="0" stroke-width="0.4" fill="#111">A</text>
<text transform="translate(330.40 471.00) scale(0.740 1)" font-size="27.70" text-anchor="middle" letter-spacing="0" stroke-width="0.4" fill="#111">)</text>
<text transform="translate(302.80 992.00) scale(0.740 1)" font-size="27.70" text-anchor="middle" letter-spacing="0" stroke-width="0.4" fill="#111">(</text>
<text transform="translate(316.55 991.80) scale(0.870 1)" font-size="25.30" text-anchor="middle" letter-spacing="0" stroke-width="0.4" fill="#111">B</text>
<text transform="translate(329.50 992.00) scale(0.740 1)" font-size="27.70" text-anchor="middle" letter-spacing="0" stroke-width="0.4" fill="#111">)</text>
</g>
</svg>
</body></html>
